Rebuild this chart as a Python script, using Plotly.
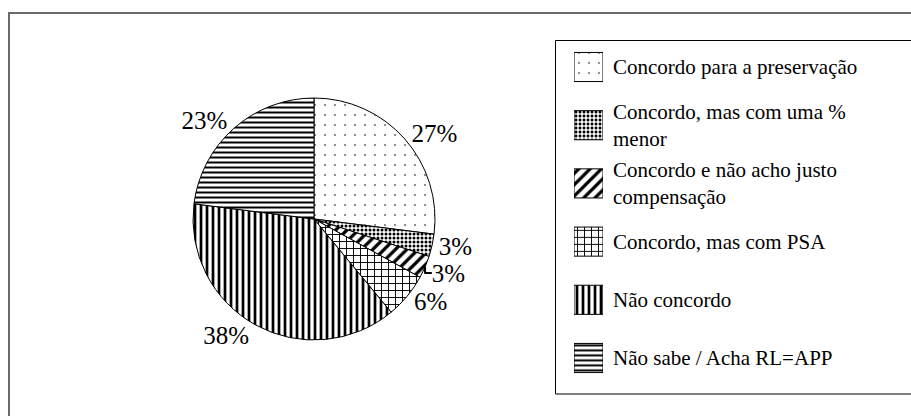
import plotly.graph_objects as go

# --- dados ---
categorias = [
    "Concordo para a preservação",
    "Concordo, mas com uma %<br>menor",
    "Concordo e não acho justo<br>compensação",
    "Concordo, mas com PSA",
    "Não concordo",
    "Não sabe / Acha RL=APP",
]
valores = [27, 3, 3, 6, 38, 23]

# padrões (preto e branco) de cada fatia
padroes = [".", ".", "/", "+", "|", "-"]
tam_padrao = [10, 4, 8, 7, 6, 5]
solidez = [0.02, 0.45, 0.4, 0.25, 0.45, 0.4]

W, H = 911, 416
FONTE = "Liberation Serif"


def px(x):
    return x / W


def py(y):
    return 1 - y / H


fig = go.Figure()

# Pizza
cx, cy, r = 314, 219, 121
fig.add_trace(go.Pie(
    labels=categorias,
    values=valores,
    sort=False,
    direction="clockwise",
    rotation=0,
    texttemplate="%{value}%",
    textposition="outside",
    textfont=dict(family=FONTE, size=25, color="black"),
    marker=dict(
        colors=["white"] * len(valores),
        line=dict(color="black", width=1),
        pattern=dict(shape=padroes, size=tam_padrao, solidity=solidez,
                     fgcolor="black", bgcolor="white", fillmode="replace"),
    ),
    domain=dict(x=[px(cx - r), px(cx + r)], y=[py(cy + r), py(cy - r)]),
    showlegend=False,
    hoverinfo="label+percent",
))

# Legenda desenhada à mão: amostras como barras com o mesmo padrão
fig.add_trace(go.Bar(
    y=categorias,
    x=[1] * len(categorias),
    orientation="h",
    width=0.5,
    marker=dict(
        color="white",
        line=dict(color="black", width=1),
        pattern=dict(shape=padroes, size=tam_padrao, solidity=solidez,
                     fgcolor="black", bgcolor="white", fillmode="replace"),
    ),
    xaxis="x2", yaxis="y2",
    showlegend=False,
    hoverinfo="skip",
))

for cat in categorias:
    fig.add_annotation(
        x=1, y=cat, xref="x2", yref="y2",
        text=cat, showarrow=False,
        xanchor="left", yanchor="middle", align="left", xshift=8,
        font=dict(family=FONTE, size=21, color="black"),
    )

# Moldura externa e caixa da legenda
fig.add_shape(type="rect", xref="paper", yref="paper",
              x0=px(9), y0=py(13), x1=px(925), y1=py(430),
              line=dict(color="#6b6b6b", width=2))
fig.add_shape(type="rect", xref="paper", yref="paper",
              x0=px(555.5), y0=py(40.5), x1=px(925), y1=py(394),
              line=dict(color="black", width=1))

fig.update_layout(
    width=W, height=H,
    margin=dict(l=0, r=0, t=0, b=0),
    paper_bgcolor="white",
    plot_bgcolor="rgba(0,0,0,0)",
    font=dict(family=FONTE, color="black"),
    xaxis2=dict(domain=[px(574), px(603)], range=[0, 1], visible=False,
                fixedrange=True),
    yaxis2=dict(domain=[py(67 + 58.2 * 5 + 29.1), py(67 - 29.1)],
                range=[len(categorias) - 0.5, -0.5], visible=False,
                type="category", fixedrange=True),
    showlegend=False,
)

# tira a margem padrão do <body> para a figura ocupar a janela toda
fig.write_html("out.html",
               config={"displayModeBar": False},
               post_script="document.body.style.margin='0';"
                           "document.body.style.overflow='hidden';")
